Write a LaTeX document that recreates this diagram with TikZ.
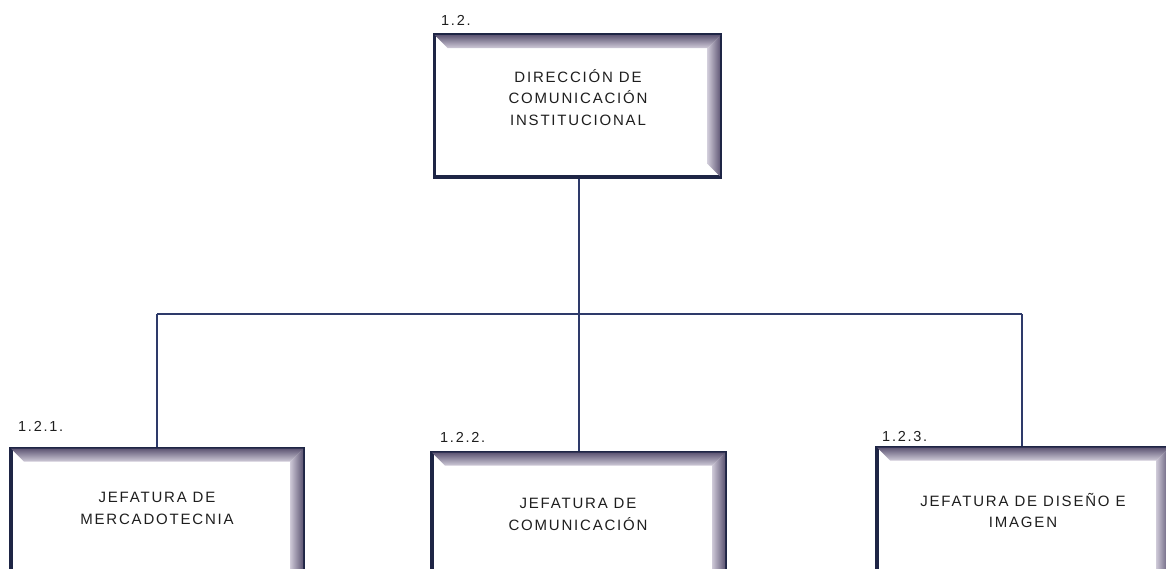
\documentclass[tikz,border=0pt]{standalone}
\usepackage{fontspec}
\setmainfont{Liberation Sans}[LetterSpace=12]
\usetikzlibrary{calc}
\definecolor{navy}{HTML}{1E2545}
\definecolor{linec}{HTML}{2E3A6A}
\definecolor{bevdark}{HTML}{5E5674}
\definecolor{bevlight}{HTML}{CFCAD8}
\definecolor{txt}{HTML}{1E1E1E}
\tikzset{
  orgbox/.style={draw=navy, line width=3.5pt, fill=white, inner sep=0pt},
  boxtext/.style={align=center, text=txt, font=\fontsize{15}{21.5}\selectfont, inner sep=0pt},
  numlabel/.style={anchor=west, text=txt, font=\fontsize{14.5}{16}\selectfont, inner sep=0pt},
  conn/.style={draw=linec, line width=1.4pt}
}
\newcommand{\bevelof}[1]{%
  \path let \p1=(#1.north west), \p2=(#1.south east) in
    [top color=bevdark, bottom color=bevlight]
    (\x1+1.75pt,\y1-1.75pt) -- (\x2-1.75pt,\y1-1.75pt) -- (\x2-14.75pt,\y1-14.75pt) -- (\x1+14.75pt,\y1-14.75pt) -- cycle;
  \path let \p1=(#1.north west), \p2=(#1.south east) in
    [left color=bevlight, right color=bevdark]
    (\x2-1.75pt,\y1-1.75pt) -- (\x2-1.75pt,\y2+1.75pt) -- (\x2-14.75pt,\y2+14.75pt) -- (\x2-14.75pt,\y1-14.75pt) -- cycle;
}
\begin{document}
\begin{tikzpicture}[x=1pt,y=-1pt]
\useasboundingbox (0,0) rectangle (1166,568);
\clip (0,0) rectangle (1166,568);
% boxes
\node[orgbox, minimum width=286pt, minimum height=142pt] (top) at (577.5,106) {};
\node[orgbox, minimum width=292pt, minimum height=142pt] (b1) at (157,519.5) {};
\node[orgbox, minimum width=293pt, minimum height=142pt] (b2) at (578.5,523.5) {};
\node[orgbox, minimum width=292pt, minimum height=142pt] (b3) at (1023,518.5) {};
\bevelof{top}
\bevelof{b1}
\bevelof{b2}
\bevelof{b3}
% texts
\node[boxtext] (ttop) at (578,97.5) {DIRECCIÓN DE\\COMUNICACIÓN\\INSTITUCIONAL};
\node[boxtext] (t1) at (157,508.5) {JEFATURA DE\\MERCADOTECNIA};
\node[boxtext] (t2) at (578,514.5) {JEFATURA DE\\COMUNICACIÓN};
\node[boxtext] (t3) at (1023,510.5) {JEFATURA DE DISEÑO E\\IMAGEN};
% number labels
\node[numlabel] (ntop) at (441,20) {1.2.};
\node[numlabel] (n1) at (18,426) {1.2.1.};
\node[numlabel] (n2) at (440,437) {1.2.2.};
\node[numlabel] (n3) at (882,436) {1.2.3.};
% connectors
\coordinate (j) at (579,314);
\coordinate (jl) at (157,314);
\coordinate (jr) at (1022,314);
\draw[conn] (top.south -| j) -- (j);
\draw[conn] (jl) -- (jr);
\draw[conn] (jl) -- (jl |- b1.north);
\draw[conn] (j) -- (j |- b2.north);
\draw[conn] (jr) -- (jr |- b3.north);
\end{tikzpicture}
\end{document}
